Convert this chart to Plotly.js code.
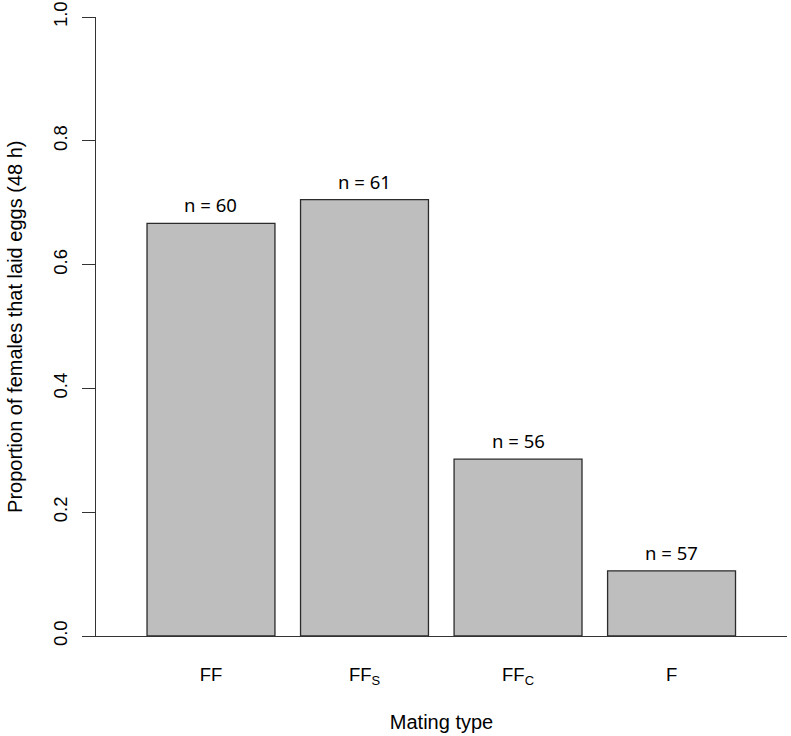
<!DOCTYPE html>
<html>
<head>
<meta charset="utf-8">
<script src="https://cdn.plot.ly/plotly-3.0.1.min.js"></script>
<style>html,body{margin:0;padding:0;background:#fff;}#chart{width:791px;height:736px;}</style>
</head>
<body>
<div id="chart"></div>
<script>
const categories = ["FF", "FF<sub>S</sub>", "FF<sub>C</sub>", "F"];
const proportions = [0.6667, 0.7049, 0.2857, 0.1053];
const sampleSizes = [60, 61, 56, 57];
const yTicks = [0, 0.2, 0.4, 0.6, 0.8, 1.0];

const font = "Liberation Sans, Arial, Helvetica, sans-serif";

const trace = {
  type: "bar",
  x: categories,
  y: proportions,
  marker: {color: "#bebebe", line: {color: "#2b2b2b", width: 1.3}},
  hoverinfo: "skip"
};

const annotations = categories.map((c, i) => ({
  x: c, y: proportions[i], xref: "x", yref: "y",
  text: "n = " + sampleSizes[i],
  showarrow: false, yanchor: "bottom", yshift: 4,
  font: {family: "Noto Sans, Open Sans, sans-serif", size: 18.5, color: "#000"}
}));
annotations.push({
  xref: "paper", yref: "paper", x: -0.118, y: 0.5,
  xanchor: "center", yanchor: "middle", textangle: -90,
  text: "Proportion of females that laid eggs (48 h)",
  showarrow: false, font: {family: font, size: 20, color: "#000"}
});

const layout = {
  width: 791, height: 736,
  margin: {l: 96, r: 4, t: 17, b: 100},
  paper_bgcolor: "#fff", plot_bgcolor: "#fff",
  bargap: 0.1667,
  showlegend: false,
  xaxis: {
    range: [-0.749, 3.752],
    showline: true, linecolor: "#333", linewidth: 1,
    ticks: "", showgrid: false, zeroline: false,
    tickfont: {family: font, size: 18.5, color: "#000"},
    ticklabelstandoff: 22,
    title: {text: "Mating type", font: {family: font, size: 20, color: "#000"}, standoff: 27}
  },
  yaxis: {
    range: [0, 1],
    tickvals: yTicks, tickformat: ".1f",
    showline: true, linecolor: "#333", linewidth: 1,
    ticks: "outside", ticklen: 13, tickcolor: "#333", tickwidth: 1,
    tickangle: -90,
    showgrid: false, zeroline: false,
    tickfont: {family: font, size: 18.5, color: "#000"},
    ticklabelstandoff: 8
  },
  annotations: annotations
};

Plotly.newPlot("chart", [trace], layout, {displayModeBar: false, staticPlot: true});
</script>
</body>
</html>
